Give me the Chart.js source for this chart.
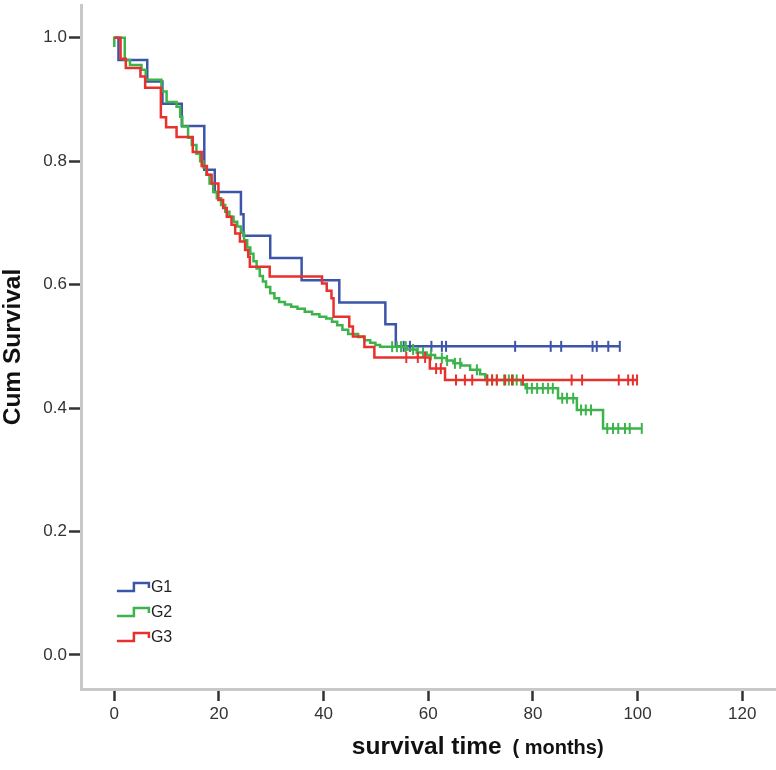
<!DOCTYPE html>
<html>
<head>
<meta charset="utf-8">
<title>Cum Survival</title>
<script src="https://cdn.jsdelivr.net/npm/chart.js@4.4.1/dist/chart.umd.min.js"></script>
<style>
    html, body { margin: 0; padding: 0; background: #fff; }
    canvas { display: block; }
</style>
</head>
<body>
<canvas id="km" width="776" height="770"></canvas>
<script>
(function () {
    "use strict";

    const groups = ["G1", "G2", "G3"];
    const colors = ["#3d55a8", "#3cb44b", "#e8302d"];

    // [months, cum survival] at each drop of the curve
    const g1Steps = [
        [0, 1], [0.8, 0.964], [6.3, 0.929], [9.2, 0.893], [12.9, 0.857],
        [17.2, 0.786], [19.2, 0.75], [24.2, 0.714], [24.7, 0.679], [29.8, 0.643],
        [35.8, 0.607], [43.0, 0.571], [51.8, 0.536], [53.8, 0.5],
    ];
    const g1Censored = [55.3, 56.5, 60.6, 62.6, 63.4, 76.6, 83.4, 85.4, 91.4, 92.2, 94.4, 96.6];

    const g2Steps = [
        [0, 0.985], [0, 1], [2.0, 0.964], [3.0, 0.956], [5.2, 0.948], [6.0, 0.932],
        [9.0, 0.913], [10.0, 0.896], [11.9, 0.888], [12.6, 0.872], [13.0, 0.856],
        [14.1, 0.838], [14.8, 0.826], [15.7, 0.812], [16.4, 0.8], [17.0, 0.79],
        [17.6, 0.778], [18.2, 0.764], [18.9, 0.75], [19.6, 0.74], [20.4, 0.729],
        [21.2, 0.718], [22.0, 0.71], [22.8, 0.702], [23.5, 0.694], [24.2, 0.684],
        [24.8, 0.672], [25.4, 0.66], [26.0, 0.65], [26.6, 0.638], [27.2, 0.626],
        [27.8, 0.614], [28.4, 0.605], [29.0, 0.596], [29.8, 0.586], [30.6, 0.578],
        [31.5, 0.572], [32.6, 0.568], [33.8, 0.564], [35.0, 0.561], [36.4, 0.556],
        [37.8, 0.552], [39.2, 0.548], [40.5, 0.545], [41.6, 0.54], [42.6, 0.534],
        [43.6, 0.527], [44.7, 0.52], [46.6, 0.515], [47.8, 0.51], [48.9, 0.506],
        [49.9, 0.502], [50.8, 0.4995], [55.9, 0.495], [57.8, 0.49], [59.7, 0.486],
        [61.3, 0.481], [63.5, 0.477], [64.8, 0.4725], [66.3, 0.469], [68.0, 0.462],
        [69.9, 0.455], [70.9, 0.4455], [77.8, 0.438], [78.6, 0.432], [84.8, 0.416],
        [88.4, 0.397], [93.4, 0.367],
    ];
    const g2Censored = [
        53.1, 54.0, 54.8, 55.7, 57.1, 58.0, 59.0, 60.5, 62.6, 63.6, 65.1, 66.1,
        69.3, 71.2, 72.2, 73.1, 74.5, 75.4, 76.2, 76.9, 78.9, 79.8, 80.8, 81.9,
        82.9, 83.8, 85.6, 86.5, 87.7, 89.2, 90.1, 91.1, 94.2, 95.3, 96.3, 97.6,
        98.5, 100.8,
    ];

    const g3Steps = [
        [0, 1], [1.2, 0.966], [2.2, 0.951], [5.0, 0.937], [5.9, 0.919], [8.9, 0.871],
        [9.9, 0.855], [11.9, 0.839], [15.0, 0.815], [16.7, 0.792], [17.7, 0.778],
        [18.6, 0.764], [19.9, 0.737], [20.8, 0.724], [21.5, 0.71], [22.4, 0.697],
        [23.1, 0.683], [24.0, 0.67], [25.0, 0.656], [25.6, 0.645], [25.9, 0.629],
        [29.7, 0.613], [39.7, 0.602], [40.6, 0.59], [41.5, 0.578], [41.9, 0.548],
        [44.9, 0.532], [45.6, 0.516], [47.8, 0.499], [49.7, 0.482], [60.3, 0.464],
        [63.2, 0.4455],
    ];
    const g3Censored = [
        55.8, 58.0, 59.4, 61.5, 62.4, 65.3, 67.0, 68.4, 71.3, 72.2, 73.1, 74.7,
        76.0, 78.1, 87.4, 89.4, 96.4, 98.2, 99.1, 99.9,
    ];

    const xTicks = [0, 20, 40, 60, 80, 100, 120];
    const yTicks = [0, 0.2, 0.4, 0.6, 0.8, 1.0];

    const allSteps = [g1Steps, g2Steps, g3Steps];
    const allCensored = [g1Censored, g2Censored, g3Censored];

    const fontFamily = "'Liberation Sans', Arial, sans-serif";

    function curve(steps, censored) {
        const pts = steps.map((s) => ({ x: s[0], y: s[1] }));
        const last = steps[steps.length - 1];
        pts.push({ x: Math.max(last[0], censored[censored.length - 1]), y: last[1] });
        return pts;
    }

    // value of the step curve at time t
    function survAt(steps, t) {
        let s = steps[0][1];
        steps.forEach((p) => {
            if (p[0] <= t) s = p[1];
        });
        return s;
    }

    const datasets = [];
    groups.forEach((g, i) => {
        const order = 2 - i; // G3 on top
        datasets.push({
            label: g,
            data: curve(allSteps[i], allCensored[i]),
            stepped: "before",
            borderColor: colors[i],
            borderWidth: 2.5,
            pointRadius: 0,
            fill: false,
            order: order,
        });
        datasets.push({
            label: g + " censored",
            data: allCensored[i].map((t) => ({ x: t, y: survAt(allSteps[i], t) })),
            showLine: false,
            pointStyle: "line",
            rotation: 90,
            pointRadius: 5.5,
            pointBorderWidth: 2,
            pointBorderColor: colors[i],
            borderColor: colors[i],
            order: order,
        });
    });

    // step-shaped legend glyphs in the lower left of the plot
    const stepLegend = {
        id: "stepLegend",
        afterDraw(chart) {
            const ctx = chart.ctx;
            const left = chart.scales.x.getPixelForValue(0.5);
            ctx.save();
            groups.forEach((g, i) => {
                const cy = chart.chartArea.bottom - 102 + i * 25;
                ctx.strokeStyle = colors[i];
                ctx.lineWidth = 2.5;
                ctx.beginPath();
                ctx.moveTo(left, cy + 4);
                ctx.lineTo(left + 17, cy + 4);
                ctx.lineTo(left + 17, cy - 4);
                ctx.lineTo(left + 32, cy - 4);
                ctx.lineTo(left + 32, cy + 1);
                ctx.stroke();
                ctx.fillStyle = "#222";
                ctx.font = "16px " + fontFamily;
                ctx.textAlign = "left";
                ctx.textBaseline = "middle";
                ctx.fillText(g, left + 34, cy + 1);
            });
            ctx.restore();
        },
    };

    // x axis title, two font sizes
    const xTitle = {
        id: "xTitle",
        afterDraw(chart) {
            const ctx = chart.ctx;
            const x0 = chart.scales.x.getPixelForValue(45.4);
            const base = 754;
            ctx.save();
            ctx.fillStyle = "#111";
            ctx.textAlign = "left";
            ctx.textBaseline = "alphabetic";
            ctx.font = "bold 24.5px " + fontFamily;
            ctx.fillText("survival time", x0, base);
            const w = ctx.measureText("survival time ").width;
            ctx.font = "bold 20px " + fontFamily;
            ctx.fillText("( months)", x0 + w + 4, base);
            ctx.restore();
        },
    };

    const ctx = document.getElementById("km").getContext("2d");
    new Chart(ctx, {
        type: "line",
        data: { datasets: datasets },
        plugins: [stepLegend, xTitle],
        options: {
            responsive: false,
            animation: false,
            layout: {
                autoPadding: false,
                padding: { top: 5, left: 0, right: 0, bottom: 0 },
            },
            plugins: {
                legend: { display: false },
                tooltip: { enabled: false },
            },
            scales: {
                x: {
                    type: "linear",
                    min: -6.36,
                    max: 126.45,
                    afterBuildTicks: (axis) => {
                        axis.ticks = xTicks.map((v) => ({ value: v }));
                    },
                    afterFit: (axis) => {
                        axis.height = 81;
                        axis.paddingLeft = 0;
                        axis.paddingRight = 0;
                    },
                    grid: {
                        drawOnChartArea: false,
                        tickLength: 12,
                        tickColor: "#333",
                        tickWidth: 2.5,
                    },
                    border: { color: "#c8c8c8", width: 3 },
                    ticks: {
                        autoSkip: false,
                        maxRotation: 0,
                        padding: 3,
                        color: "#333",
                        font: { family: fontFamily, size: 17 },
                        callback: (v) => String(v),
                    },
                },
                y: {
                    type: "linear",
                    min: -0.0551,
                    max: 1.053,
                    afterBuildTicks: (axis) => {
                        axis.ticks = yTicks.map((v) => ({ value: v }));
                    },
                    afterFit: (axis) => {
                        axis.width = 81;
                        axis.paddingTop = 0;
                        axis.paddingBottom = 0;
                    },
                    grid: {
                        drawOnChartArea: false,
                        tickLength: 12,
                        tickColor: "#333",
                        tickWidth: 2.5,
                    },
                    border: { color: "#c8c8c8", width: 3 },
                    ticks: {
                        padding: 2,
                        color: "#333",
                        font: { family: fontFamily, size: 17 },
                        callback: (v) => v.toFixed(1),
                    },
                    title: {
                        display: true,
                        text: "Cum Survival",
                        color: "#111",
                        padding: 0,
                        font: { family: fontFamily, size: 24.5, weight: "bold", lineHeight: 1.1 },
                    },
                },
            },
        },
    });
})();
</script>
</body>
</html>
